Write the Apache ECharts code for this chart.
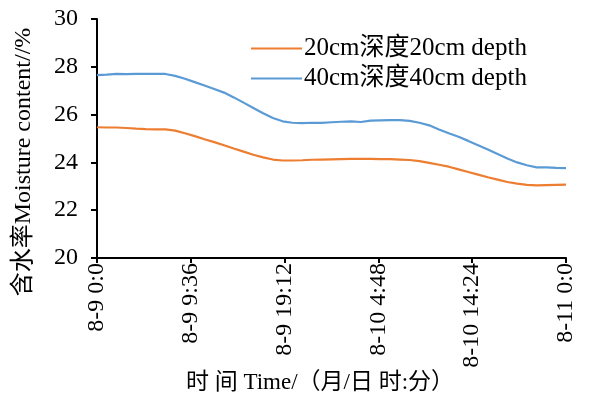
<!DOCTYPE html>
<html>
<head>
<meta charset="utf-8">
<script src="https://cdn.jsdelivr.net/npm/echarts@6/dist/echarts.min.js"></script>
<style>
  html, body { margin: 0; padding: 0; background: #fff; }
  #chart { width: 597px; height: 406px; }
</style>
</head>
<body>
<div id="chart"></div>
<script>
// Hours elapsed since 8-9 0:00
const hours = [0,1,2,3,4,5,6,7,8,9,10,11,12,13,14,15,16,17,18,19,20,21,22,23,24,
  25,26,27,28,29,30,31,32,33,34,35,36,37,38,39,40,41,42,43,44,45,46,47,48];

// Soil moisture content (%) at 20 cm depth
const depth20 = [25.47,25.46,25.46,25.44,25.41,25.39,25.38,25.38,25.33,25.22,25.10,24.97,24.85,
  24.72,24.58,24.45,24.32,24.21,24.12,24.08,24.08,24.09,24.11,24.12,24.13,24.14,24.15,24.15,
  24.15,24.14,24.14,24.12,24.10,24.05,23.98,23.90,23.82,23.71,23.60,23.49,23.38,23.28,23.18,
  23.11,23.06,23.04,23.05,23.06,23.07];

// Soil moisture content (%) at 40 cm depth
const depth40 = [27.65,27.67,27.70,27.69,27.70,27.71,27.70,27.70,27.62,27.50,27.36,27.22,27.07,
  26.92,26.72,26.50,26.28,26.06,25.86,25.72,25.66,25.64,25.66,25.65,25.68,25.70,25.72,25.69,
  25.75,25.76,25.77,25.77,25.74,25.66,25.55,25.38,25.22,25.07,24.90,24.72,24.54,24.35,24.16,
  24.00,23.88,23.79,23.79,23.77,23.76];

const xTickLabels = ['8-9 0:0', '8-9 9:36', '8-9 19:12', '8-10 4:48', '8-10 14:24', '8-11 0:0'];
const xTickStep = 9.6;

const seriesNames = ['20cm深度20cm depth', '40cm深度40cm depth'];

const serif = '"Liberation Serif", "Times New Roman", "Noto Sans CJK SC", serif';
const axisColor = '#000';

const chart = echarts.init(document.getElementById('chart'), null, { renderer: 'canvas' });

chart.setOption({
  animation: false,
  backgroundColor: '#fff',
  grid: { left: 97, right: 31, top: 19, bottom: 148, containLabel: false, outerBoundsMode: 'none' },
  legend: {
    orient: 'vertical',
    left: 246,
    top: 31,
    icon: 'rect',
    itemWidth: 51,
    itemHeight: 2,
    itemGap: 5,
    data: seriesNames,
    textStyle: { fontFamily: serif, fontSize: 25, color: '#000', padding: [0, 0, 0, -3] }
  },
  xAxis: {
    type: 'value',
    min: 0,
    max: 48,
    interval: xTickStep,
    splitLine: { show: false },
    axisLine: { lineStyle: { color: axisColor, width: 2 } },
    axisTick: { show: true, length: 5, lineStyle: { color: axisColor, width: 2 } },
    axisLabel: {
      rotate: 90,
      margin: 5,
      fontFamily: serif,
      fontSize: 24,
      color: '#000',
      showMinLabel: true,
      showMaxLabel: true,
      formatter: v => xTickLabels[Math.round(v / xTickStep)] || ''
    }
  },
  yAxis: {
    type: 'value',
    min: 20,
    max: 30,
    interval: 2,
    splitLine: { show: false },
    axisLine: { show: true, lineStyle: { color: axisColor, width: 2 } },
    axisTick: { show: true, length: 6, lineStyle: { color: axisColor, width: 2 } },
    axisLabel: { margin: 19, fontFamily: serif, fontSize: 24, color: '#000' }
  },
  graphic: [
    {
      type: 'text',
      x: 24,
      y: 162,
      rotation: Math.PI / 2,
      style: {
        text: '含水率Moisture content//%',
        font: '24px ' + serif,
        fill: '#000',
        textAlign: 'center',
        textVerticalAlign: 'middle'
      }
    },
    {
      type: 'text',
      x: 320,
      y: 383,
      style: {
        text: '时 间 Time/（月/日 时:分）',
        font: '23px ' + serif,
        fill: '#000',
        textAlign: 'center',
        textVerticalAlign: 'middle'
      }
    }
  ],
  series: [
    {
      name: seriesNames[0],
      type: 'line',
      symbol: 'none',
      smooth: false,
      lineStyle: { color: '#ED7D31', width: 2.2 },
      itemStyle: { color: '#ED7D31' },
      data: hours.map((h, i) => [h, depth20[i]])
    },
    {
      name: seriesNames[1],
      type: 'line',
      symbol: 'none',
      smooth: false,
      lineStyle: { color: '#5B9BD5', width: 2.2 },
      itemStyle: { color: '#5B9BD5' },
      data: hours.map((h, i) => [h, depth40[i]])
    }
  ]
});
</script>
</body>
</html>
